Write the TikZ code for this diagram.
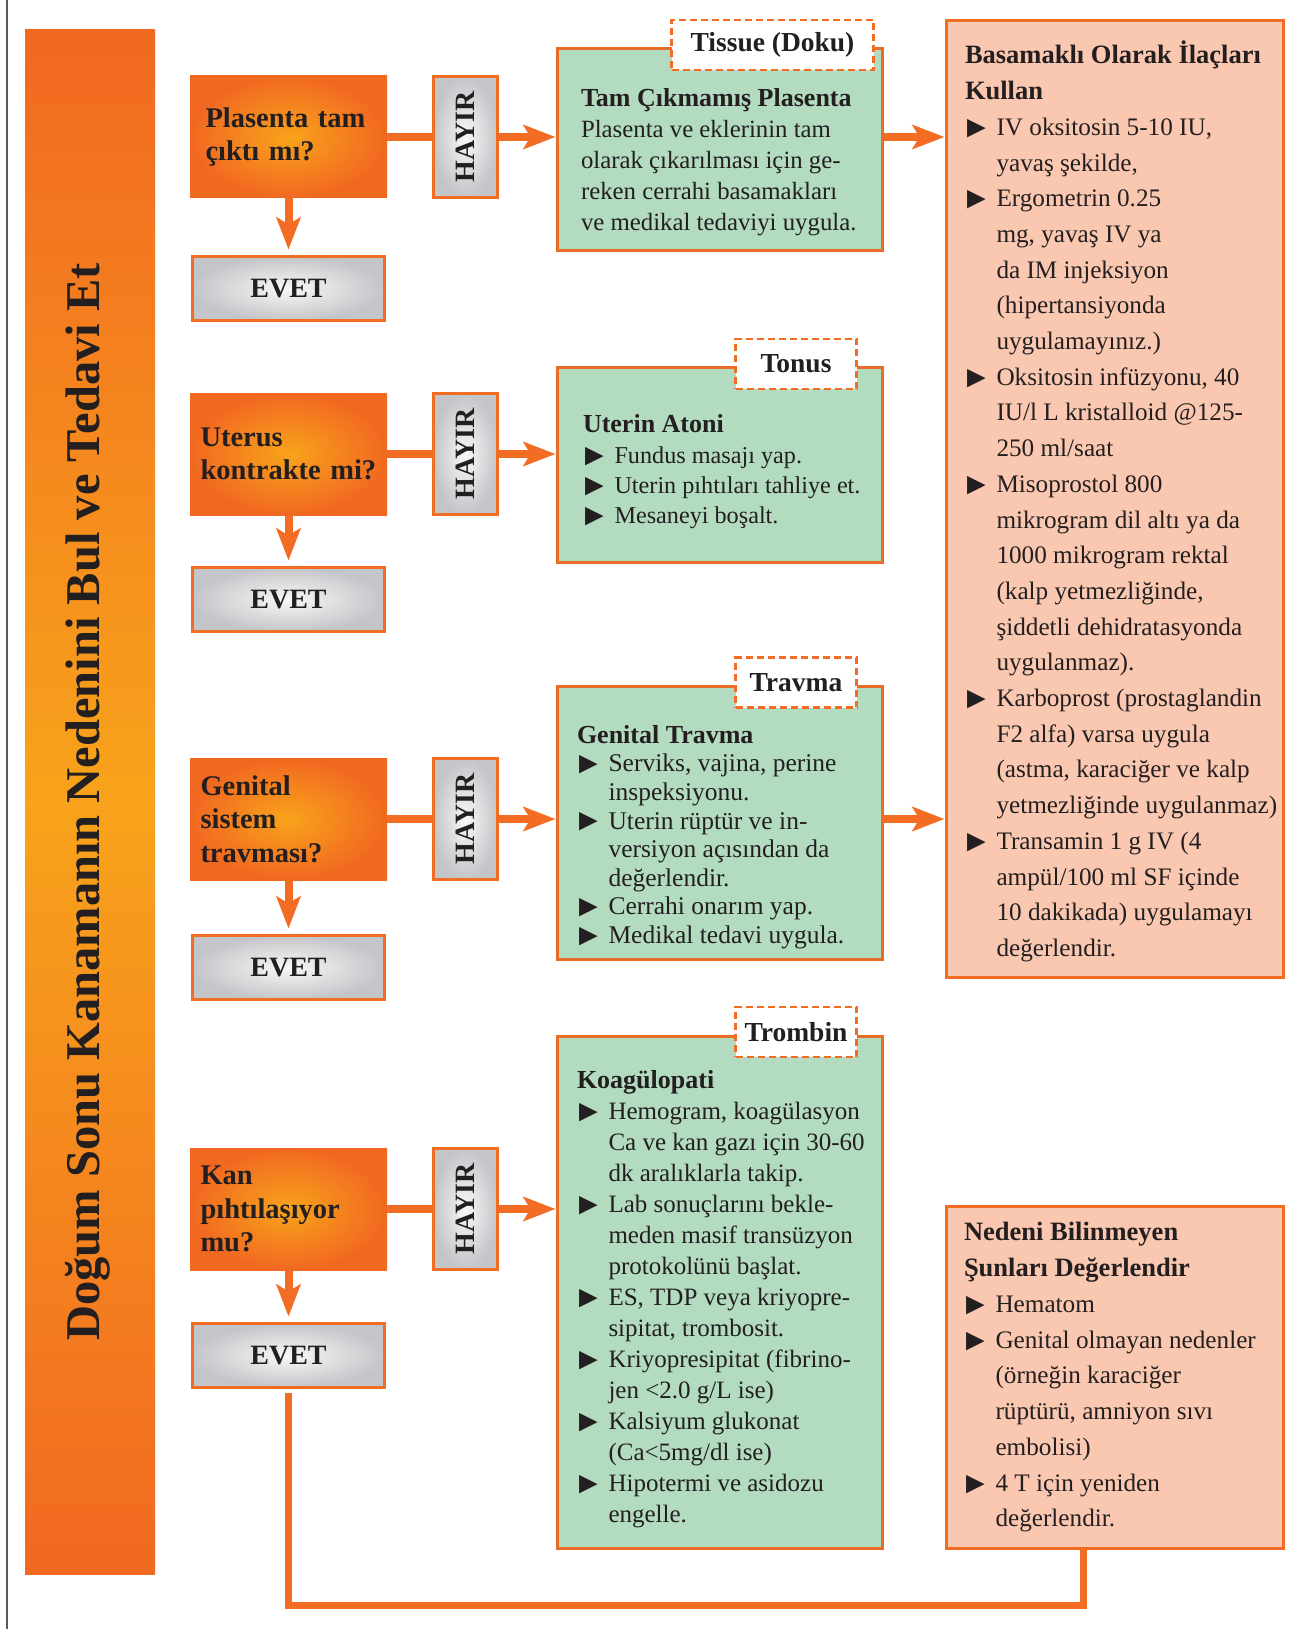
\documentclass[tikz,border=0pt]{standalone}
\usepackage{fontspec}
\setmainfont{Liberation Serif}
\usetikzlibrary{arrows.meta}

\definecolor{ink}{RGB}{35,31,32}
\definecolor{flow}{RGB}{242,108,35}
\definecolor{decout}{RGB}{241,104,33}
\definecolor{decin}{RGB}{248,163,27}
\definecolor{greyout}{RGB}{196,197,200}
\definecolor{greyin}{RGB}{248,248,249}
\definecolor{greenfill}{RGB}{179,219,192}
\definecolor{salmon}{RGB}{250,200,177}
\definecolor{edge}{RGB}{232,110,40}
\definecolor{rulegrey}{RGB}{90,90,90}

% bullet and continuation indent for the lists
\newcommand\bl{\makebox[31.5pt][l]{\hspace*{-4pt}\raisebox{-1.8pt}{\fontsize{31}{31}\selectfont ►}\hspace*{-4pt}}}
\newcommand\ct{\hspace*{31.5pt}}
\newcommand\topstrut{\rule{0pt}{0.95em}}
\newcommand\hd[1]{{\bfseries\fontsize{26}{30}\selectfont #1}}

\begin{document}
\begin{tikzpicture}[x=1pt,y=-1pt,
  every node/.style={text=ink, inner sep=0pt, outer sep=0pt},
  banner/.style={rectangle, minimum width=130pt, minimum height=1544pt,
    top color=decout, bottom color=decout, middle color=decin},
  question/.style={rectangle, minimum width=197pt, minimum height=122pt,
    inner color=decin, outer color=decout, text width=176pt, align=left,
    font=\fontsize{28.5}{33.5}\selectfont\bfseries},
  nobox/.style={rectangle, minimum width=64pt, minimum height=121pt,
    draw=flow, line width=3pt, inner color=greyin, outer color=greyout,
    font=\fontsize{28}{30}\selectfont\bfseries},
  yesbox/.style={rectangle, minimum width=192pt, minimum height=64pt,
    draw=flow, line width=3pt, inner color=greyin, outer color=greyout,
    font=\fontsize{28}{30}\selectfont\bfseries},
  causebox/.style={rectangle, minimum width=325pt, draw=edge, line width=3pt,
    fill=greenfill},
  tagbox/.style={rectangle, minimum height=50pt, draw=flow, line width=2.5pt,
    dash pattern=on 7pt off 4pt, fill=white,
    font=\fontsize{27.5}{30}\selectfont\bfseries},
  drugbox/.style={rectangle, minimum width=337pt, draw=flow, line width=3pt,
    fill=salmon},
  body/.style={anchor=north west, align=left},
  link/.style={draw=flow, line width=8pt},
  arrowlink/.style={link, -{Stealth[length=32pt,width=24pt,inset=7pt]}},
]
\useasboundingbox (0,0) rectangle (1302,1629);

% thin page rule on the left
\draw[rulegrey, line width=1.2pt] (7,0) -- (7,1629);

% title banner
\node[banner] (banner) at (90,802) {};
\node[rotate=90, font=\fontsize{48.5}{58}\selectfont\bfseries] (title) at (88,802)
  {Doğum Sonu Kanamanın Nedenini Bul ve Tedavi Et};

% questions
\node[question] (q1) at (288.5,137)  {\hspace*{5pt}Plasenta tam\\\hspace*{5pt}çıktı mı?};
\node[question] (q2) at (288.5,454)  {Uterus\\kontrakte mi?};
\node[question] (q3) at (288.5,819)  {Genital\\sistem\\travması?};
\node[question] (q4) at (288.5,1209) {Kan\\pıhtılaşıyor\\mu?};

% answers
\node[nobox] (n1) at (465.5,137)  {\rotatebox{90}{HAYIR}};
\node[nobox] (n2) at (465.5,454)  {\rotatebox{90}{HAYIR}};
\node[nobox] (n3) at (465.5,819)  {\rotatebox{90}{HAYIR}};
\node[nobox] (n4) at (465.5,1209) {\rotatebox{90}{HAYIR}};

\node[yesbox] (y1) at (288.5,288.5)  {EVET};
\node[yesbox] (y2) at (288.5,599.5)  {EVET};
\node[yesbox] (y3) at (288.5,967.5)  {EVET};
\node[yesbox] (y4) at (288.5,1355.5) {EVET};

% cause boxes
\node[causebox, minimum height=202pt] (c1) at (720,149.5) {};
\node[causebox, minimum height=195pt] (c2) at (720,465) {};
\node[causebox, minimum height=273pt] (c3) at (720,823) {};
\node[causebox, minimum height=512pt] (c4) at (720,1292.5) {};

\node[tagbox, minimum width=202pt] (t1) at (772.5,45) {Tissue (Doku)};
\node[tagbox, minimum width=121pt] (t2) at (796,364) {Tonus};
\node[tagbox, minimum width=121pt] (t3) at (796,682.5) {Travma};
\node[tagbox, minimum width=121pt] (t4) at (796,1032) {Trombin};

\node[body, font=\fontsize{24.8}{31}\selectfont] (c1text) at (581,83) {%
  \topstrut\hd{Tam Çıkmamış Plasenta}\\
  Plasenta ve eklerinin tam\\
  olarak çıkarılması için ge-\\
  reken cerrahi basamakları\\
  ve medikal tedaviyi uygula.};

\node[body, font=\fontsize{24.2}{30.3}\selectfont] (c2text) at (583,410) {%
  \topstrut\hd{Uterin Atoni}\\
  \bl Fundus masajı yap.\\
  \bl Uterin pıhtıları tahliye et.\\
  \bl Mesaneyi boşalt.};

\node[body, font=\fontsize{25.5}{28.6}\selectfont] (c3text) at (577,719) {%
  \topstrut\hd{Genital Travma}\\
  \bl Serviks, vajina, perine\\
  \ct inspeksiyonu.\\
  \bl Uterin rüptür ve in-\\
  \ct versiyon açısından da\\
  \ct değerlendir.\\
  \bl Cerrahi onarım yap.\\
  \bl Medikal tedavi uygula.};

\node[body, font=\fontsize{25}{31}\selectfont] (c4text) at (577,1065) {%
  \topstrut\hd{Koagülopati}\\
  \bl Hemogram, koagülasyon\\
  \ct Ca ve kan gazı için 30-60\\
  \ct dk aralıklarla takip.\\
  \bl Lab sonuçlarını bekle-\\
  \ct meden masif transüzyon\\
  \ct protokolünü başlat.\\
  \bl ES, TDP veya kriyopre-\\
  \ct sipitat, trombosit.\\
  \bl Kriyopresipitat (fibrino-\\
  \ct jen <2.0 g/L ise)\\
  \bl Kalsiyum glukonat\\
  \ct (Ca<5mg/dl ise)\\
  \bl Hipotermi ve asidozu\\
  \ct engelle.};

% drug boxes
\node[drugbox, minimum height=957pt] (d1) at (1115,499) {};
\node[drugbox, minimum height=342pt] (d2) at (1115,1377.5) {};

\node[body, font=\fontsize{25.2}{35.7}\selectfont] (d1text) at (965,40) {%
  \topstrut{\bfseries\fontsize{26.5}{30}\selectfont Basamaklı Olarak İlaçları}\\
  {\bfseries\fontsize{26.5}{30}\selectfont Kullan}\\
  \bl IV oksitosin 5-10 IU,\\
  \ct yavaş şekilde,\\
  \bl Ergometrin 0.25\\
  \ct mg, yavaş IV ya\\
  \ct da IM injeksiyon\\
  \ct (hipertansiyonda\\
  \ct uygulamayınız.)\\
  \bl Oksitosin infüzyonu, 40\\
  \ct IU/l L kristalloid @125-\\
  \ct 250 ml/saat\\
  \bl Misoprostol 800\\
  \ct mikrogram dil altı ya da\\
  \ct 1000 mikrogram rektal\\
  \ct (kalp yetmezliğinde,\\
  \ct şiddetli dehidratasyonda\\
  \ct uygulanmaz).\\
  \bl Karboprost (prostaglandin\\
  \ct F2 alfa) varsa uygula\\
  \ct (astma, karaciğer ve kalp\\
  \ct yetmezliğinde uygulanmaz)\\
  \bl Transamin 1 g IV (4\\
  \ct ampül/100 ml SF içinde\\
  \ct 10 dakikada) uygulamayı\\
  \ct değerlendir.};

\node[body, font=\fontsize{25.2}{35.75}\selectfont] (d2text) at (964,1217) {%
  \topstrut{\bfseries\fontsize{26.5}{30}\selectfont Nedeni Bilinmeyen}\\
  {\bfseries\fontsize{26.5}{30}\selectfont Şunları Değerlendir}\\
  \bl Hematom\\
  \bl Genital olmayan nedenler\\
  \ct (örneğin karaciğer\\
  \ct rüptürü, amniyon sıvı\\
  \ct embolisi)\\
  \bl 4 T için yeniden\\
  \ct değerlendir.};

% connectors
\foreach \k in {1,2,3,4} {
  \draw[link] (q\k.east) -- (n\k.west);
  \draw[arrowlink, shorten >=2pt] (n\k.east) -- (n\k.east -| c\k.west);
  \draw[arrowlink, shorten >=7pt] (q\k.south) -- (y\k.north);
}
\draw[arrowlink, shorten >=2pt] (n1 -| c1.east) -- (n1 -| d1.west);
\draw[arrowlink, shorten >=2pt] (n3 -| c3.east) -- (n3 -| d1.west);

\coordinate (turn) at (700,1605);
\draw[draw=flow, line width=7pt] ([yshift=-5pt]y4.south) |- (turn) -| ([xshift=-32pt]d2.south);
\end{tikzpicture}
\end{document}
